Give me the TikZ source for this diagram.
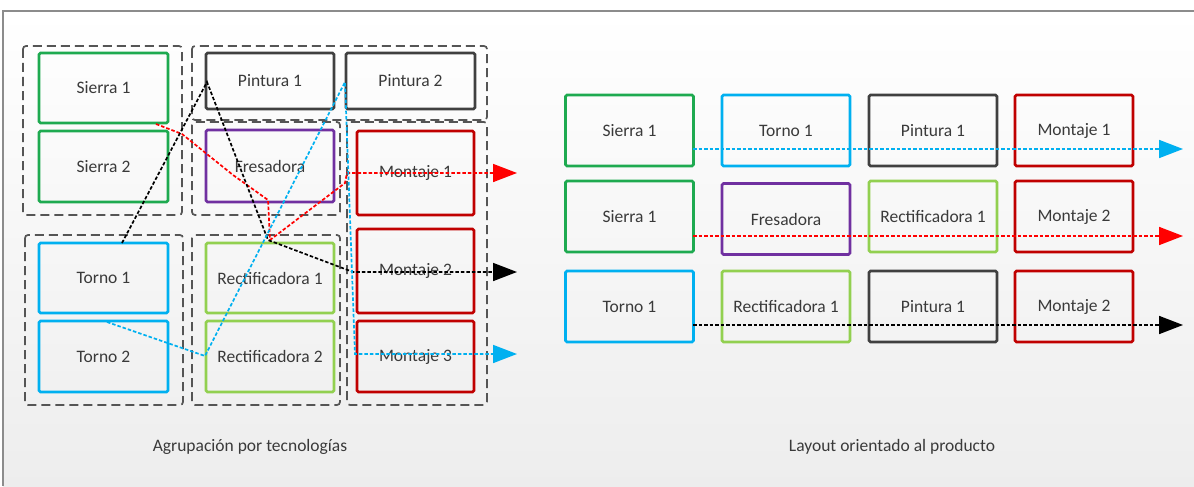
\documentclass[tikz,border=0pt]{standalone}
\usepackage{fontspec}
\setmainfont{Carlito}
\usetikzlibrary{arrows.meta}
\definecolor{cgreen}{RGB}{30,170,80}
\definecolor{cblue}{RGB}{0,176,240}
\definecolor{cdark}{RGB}{64,64,64}
\definecolor{cpurple}{RGB}{112,48,160}
\definecolor{clgreen}{RGB}{146,208,80}
\definecolor{cred}{RGB}{192,0,0}
\definecolor{txt}{RGB}{58,58,58}
\definecolor{grp}{RGB}{85,85,85}
\definecolor{frame}{RGB}{140,140,140}
\begin{document}
\begin{tikzpicture}[x=1pt,y=-1pt,
  mbox/.style={draw=#1,line width=2.6pt,rounded corners=1.5pt,inner sep=0pt,
    font=\fontsize{17.5}{20}\selectfont,text=txt},
  grpbox/.style={draw=grp,line width=1.7pt,dash pattern=on 9pt off 5pt,rounded corners=3pt},
  flow/.style={line width=1.7pt,dash pattern=on 3.5pt off 2pt},
  tip/.style={-{Triangle[length=24pt,width=18pt]}},
  lbl/.style={font=\fontsize{17.5}{20}\selectfont,text=txt}]
\useasboundingbox (0,0) rectangle (1194,487);
\fill[white] (0,0) rectangle (1194,487);
\shade[top color=white,bottom color=black!7] (3,11) rectangle (1196,486);
\draw[frame,line width=2.2pt] (3,486) -- (3,11) -- (1196,11);

% group boxes (left)
\draw[grpbox] (23,46) rectangle (182,215);
\draw[grpbox] (192,46) rectangle (487,120);
\draw[grpbox] (192,122) rectangle (340,215);
\draw[grpbox] (347,122) rectangle (487,405);
\draw[grpbox] (25,235) rectangle (183,405);
\draw[grpbox] (192,235) rectangle (340,405);

% left machines
\node[mbox=cgreen,minimum width=129pt,minimum height=70pt] (s1) at (103.5,88) {Sierra 1};
\node[mbox=cgreen,minimum width=129pt,minimum height=71pt] (s2) at (103.5,166.5) {Sierra 2};
\node[mbox=cdark,minimum width=128pt,minimum height=56pt] (p1) at (270,81) {Pintura 1};
\node[mbox=cdark,minimum width=129pt,minimum height=56pt] (p2) at (410.5,81) {Pintura 2};
\node[mbox=cpurple,minimum width=128pt,minimum height=72pt] (fr) at (270,166) {Fresadora};
\node[mbox=cred,minimum width=117pt,minimum height=84pt] (m1) at (415.5,173) {Montaje 1};
\node[mbox=cred,minimum width=117pt,minimum height=84pt] (m2) at (415.5,271) {Montaje 2};
\node[mbox=cred,minimum width=117pt,minimum height=71pt] (m3) at (415.5,356.5) {Montaje 3};
\node[mbox=cblue,minimum width=129pt,minimum height=70pt] (t1) at (103.5,278) {Torno 1};
\node[mbox=cblue,minimum width=129pt,minimum height=71pt] (t2) at (103.5,356.5) {Torno 2};
\node[mbox=clgreen,minimum width=128pt,minimum height=70pt] (r1) at (270,278) {Rectificadora 1};
\node[mbox=clgreen,minimum width=128pt,minimum height=71pt] (r2) at (270,356.5) {Rectificadora 2};

% right machines
\node[mbox=cgreen,minimum width=128pt,minimum height=71pt] (a1) at (629.5,130.5) {Sierra 1};
\node[mbox=cblue,minimum width=128pt,minimum height=71pt] (a2) at (786,130.5) {Torno 1};
\node[mbox=cdark,minimum width=128pt,minimum height=71pt] (a3) at (933,130.5) {Pintura 1};
\node[mbox=cred,minimum width=118pt,minimum height=71pt] (a4) at (1074,130.5) {Montaje 1};
\node[mbox=cgreen,minimum width=128pt,minimum height=71pt] (b1) at (629.5,216.5) {Sierra 1};
\node[mbox=cpurple,minimum width=128pt,minimum height=71pt] (b2) at (786,219) {Fresadora};
\node[mbox=clgreen,minimum width=128pt,minimum height=71pt] (b3) at (933,216.5) {Rectificadora 1};
\node[mbox=cred,minimum width=118pt,minimum height=71pt] (b4) at (1074,216.5) {Montaje 2};
\node[mbox=cblue,minimum width=128pt,minimum height=71pt] (c1) at (629.5,306.5) {Torno 1};
\node[mbox=clgreen,minimum width=128pt,minimum height=71pt] (c2) at (786,306.5) {Rectificadora 1};
\node[mbox=cdark,minimum width=128pt,minimum height=71pt] (c3) at (933,306.5) {Pintura 1};
\node[mbox=cred,minimum width=118pt,minimum height=71pt] (c4) at (1074,306.5) {Montaje 2};

% labels
\node[lbl] (lab1) at (250,447) {Agrupación por tecnologías};
\node[lbl] (lab2) at (892,447) {Layout orientado al producto};

% waypoints (left)
\coordinate (ra) at (156,124);
\coordinate (rb) at (182,134);
\coordinate (rc) at (233,175);
\coordinate (rd) at (268,200);
\coordinate (re) at (270,240);
\coordinate (rf) at (345,183);
\coordinate (rg) at (347,173);
\coordinate (rend) at (517,173);
\coordinate (ka) at (122,243);
\coordinate (kb) at (207,82);
\coordinate (kc) at (268,240);
\coordinate (kd) at (353,272);
\coordinate (kend) at (517,272);
\coordinate (ba) at (107,322);
\coordinate (bb) at (205,356);
\coordinate (bc) at (345,82);
\coordinate (bd) at (355,354);
\coordinate (bend) at (517,354);
% waypoints (right)
\coordinate (xa) at (693,149);
\coordinate (xend) at (1183,149);
\coordinate (ya) at (693,236);
\coordinate (yend) at (1183,236);
\coordinate (za) at (693,325);
\coordinate (zend) at (1183,325);

% connectors left
\draw[flow,red,tip] (ra) -- (rb) -- (rc) -- (rd) -- (re) -- (rf) -- (rg) -- (rend);
\draw[flow,black,tip] (ka) -- (kb) -- (kc) -- (kd) -- (kend);
\draw[flow,cblue,tip] (ba) -- (bb) -- (bc) -- (bd) -- (bend);
% connectors right
\draw[flow,cblue,tip] (xa) -- (xend);
\draw[flow,red,tip] (ya) -- (yend);
\draw[flow,black,tip] (za) -- (zend);
\end{tikzpicture}
\end{document}
